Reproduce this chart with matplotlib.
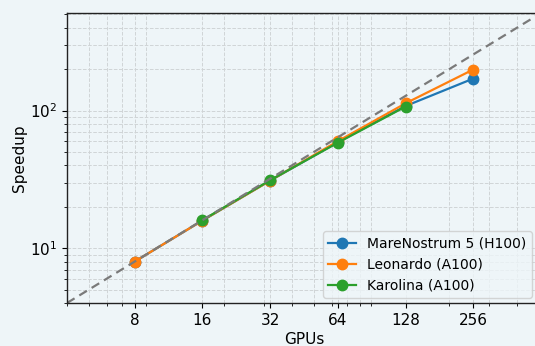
import numpy as np
import matplotlib
matplotlib.use("Agg")
import matplotlib.pyplot as plt
from matplotlib.ticker import NullFormatter

# GPU counts and measured speedups
gpus_mn5 = [8, 16, 32, 64, 128, 256]
speedup_mn5 = [8, 15.9, 31, 59, 108, 171]

gpus_leo = [8, 16, 32, 64, 128, 256]
speedup_leo = [8, 15.9, 31, 60, 113, 199]

gpus_kar = [16, 32, 64, 128]
speedup_kar = [16, 31.2, 58.5, 107]

ideal = [4, 512]
xticks = [8, 16, 32, 64, 128, 256]

bg = "#eef5f8"
fig = plt.figure(figsize=(5.35, 3.46), dpi=100, facecolor=bg)
ax = fig.add_axes([0.1252, 0.1243, 0.886, 0.838], facecolor=bg)

ax.plot(gpus_mn5, speedup_mn5, "o-", color="#1f77b4", lw=1.6, ms=7.5,
        label="MareNostrum 5 (H100)")
ax.plot(gpus_leo, speedup_leo, "o-", color="#ff7f0e", lw=1.6, ms=7.5,
        label="Leonardo (A100)")
ax.plot(gpus_kar, speedup_kar, "o-", color="#2ca02c", lw=1.6, ms=7.5,
        label="Karolina (A100)")
ax.plot(ideal, ideal, "--", color="#7a7a7a", lw=1.6, dashes=(4, 2.5))

ax.set_xscale("log")
ax.set_yscale("log")
ax.set_xlim(4, 512)
ax.set_ylim(4, 512)
ax.set_xticks(xticks)
ax.set_xticklabels([str(t) for t in xticks])
ax.xaxis.set_minor_formatter(NullFormatter())

ax.grid(True, which="both", ls="--", color="#d0d4d6", lw=0.7)
ax.set_axisbelow(True)

for s in ax.spines.values():
    s.set_color("#222222")
    s.set_linewidth(1.0)

ax.tick_params(labelsize=11)
ax.set_xlabel("GPUs", fontsize=11, labelpad=3)
ax.set_ylabel("Speedup", fontsize=11, labelpad=2)

leg = ax.legend(loc="lower right", fontsize=10,
                bbox_to_anchor=(532 / 535, 48 / 346),
                bbox_transform=fig.transFigure, borderaxespad=0,
                framealpha=0.8, facecolor=bg)

fig.savefig("out.png", dpi=100, facecolor=bg)
